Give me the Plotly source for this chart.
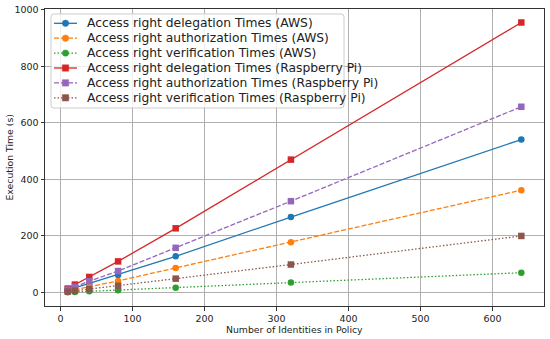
import plotly.graph_objects as go

identities = [10, 20, 40, 80, 160, 320, 640]

aws_delegation = [8, 16, 31, 62, 128, 267, 541]
aws_authorization = [5, 10, 20, 41, 87, 178, 362]
aws_verification = [1, 2, 4, 8, 17, 35, 70]
pi_delegation = [14, 28, 55, 110, 227, 470, 955]
pi_authorization = [10, 20, 40, 76, 158, 323, 657]
pi_verification = [3, 6, 12, 24, 49, 99, 200]

series = [
    ("Access right delegation Times (AWS)", aws_delegation, "#1f77b4", "solid", "circle"),
    ("Access right authorization Times (AWS)", aws_authorization, "#ff7f0e", "5px,2px", "circle"),
    ("Access right verification Times (AWS)", aws_verification, "#2ca02c", "1.5px,2px", "circle"),
    ("Access right delegation Times (Raspberry Pi)", pi_delegation, "#d62728", "solid", "square"),
    ("Access right authorization Times (Raspberry Pi)", pi_authorization, "#9467bd", "5px,2px", "square"),
    ("Access right verification Times (Raspberry Pi)", pi_verification, "#8c564b", "1.5px,2px", "square"),
]

W, H = 550, 339
ML, MR, MT, MB = 45, 6, 9, 33
PW, PH = W - ML - MR, H - MT - MB


def px(xpix):
    return (xpix - ML) / PW


def py(ypix):
    return (H - MB - ypix) / PH


fig = go.Figure()
for name, ys, color, dash, sym in series:
    fig.add_trace(go.Scatter(
        x=identities, y=ys, name=name, mode="lines+markers",
        line=dict(color=color, width=1.3, dash=dash),
        marker=dict(color=color, symbol=sym, size=6.5),
        showlegend=False, hoverinfo="skip",
    ))

axis_common = dict(
    showline=True, linecolor="#333333", linewidth=1, mirror=True,
    showgrid=True, gridcolor="#b0b0b0", gridwidth=1,
    ticks="outside", ticklen=3.5, tickcolor="#333333", tickwidth=1,
    tickfont=dict(family="DejaVu Sans", size=9.5, color="#222222"),
    zeroline=False, automargin=False,
)

shapes = []
annotations = []

# legend frame with rounded corners
lx0, lx1, ly0, ly1, rr = 51, 344, 14, 108, 3
frame = (
    f"M {px(lx0 + rr)},{py(ly0)} L {px(lx1 - rr)},{py(ly0)} "
    f"Q {px(lx1)},{py(ly0)} {px(lx1)},{py(ly0 + rr)} "
    f"L {px(lx1)},{py(ly1 - rr)} Q {px(lx1)},{py(ly1)} {px(lx1 - rr)},{py(ly1)} "
    f"L {px(lx0 + rr)},{py(ly1)} Q {px(lx0)},{py(ly1)} {px(lx0)},{py(ly1 - rr)} "
    f"L {px(lx0)},{py(ly0 + rr)} Q {px(lx0)},{py(ly0)} {px(lx0 + rr)},{py(ly0)} Z"
)
shapes.append(dict(type="path", xref="paper", yref="paper", path=frame,
                   line=dict(color="#cccccc", width=1),
                   fillcolor="rgba(255,255,255,0.8)", layer="above"))
row0, gap = 23.3, 14.9
for i, (name, ys, color, dash, sym) in enumerate(series):
    yc = row0 + i * gap
    shapes.append(dict(type="line", xref="paper", yref="paper",
                       x0=px(54), x1=px(77), y0=py(yc), y1=py(yc),
                       line=dict(color=color, width=1.3, dash=dash), layer="above"))
    r = 3.2
    shapes.append(dict(type="circle" if sym == "circle" else "rect",
                       xref="paper", yref="paper",
                       x0=px(65.5 - r), x1=px(65.5 + r), y0=py(yc + r), y1=py(yc - r),
                       line=dict(color=color, width=0.5), fillcolor=color, layer="above"))
    annotations.append(dict(text=name, xref="paper", yref="paper",
                            x=px(85), y=py(yc), xanchor="left", yanchor="middle",
                            showarrow=False,
                            font=dict(family="DejaVu Sans", size=12.3, color="#222222")))

annotations.append(dict(text="Number of Identities in Policy", xref="paper", yref="paper",
                        x=0.5, y=py(329), xanchor="center", yanchor="middle", showarrow=False,
                        font=dict(family="DejaVu Sans", size=9.3, color="#222222")))
annotations.append(dict(text="Execution Time (s)", xref="paper", yref="paper",
                        x=px(9), y=0.5, xanchor="center", yanchor="middle", showarrow=False,
                        textangle=-90,
                        font=dict(family="DejaVu Sans", size=9.3, color="#222222")))

fig.update_layout(
    width=W, height=H,
    margin=dict(l=ML, r=MR, t=MT, b=MB),
    paper_bgcolor="white", plot_bgcolor="white",
    font=dict(family="DejaVu Sans", color="#222222"),
    xaxis=dict(range=[-21.5, 671.5], tickvals=[0, 100, 200, 300, 400, 500, 600], **axis_common),
    yaxis=dict(range=[-47.75, 1002.75], tickvals=[0, 200, 400, 600, 800, 1000], **axis_common),
    shapes=shapes, annotations=annotations,
    showlegend=False, hovermode=False,
)

fig.write_html("out.html", config={"displayModeBar": False},
               post_script="document.body.style.margin='0';document.body.style.overflow='hidden';")
